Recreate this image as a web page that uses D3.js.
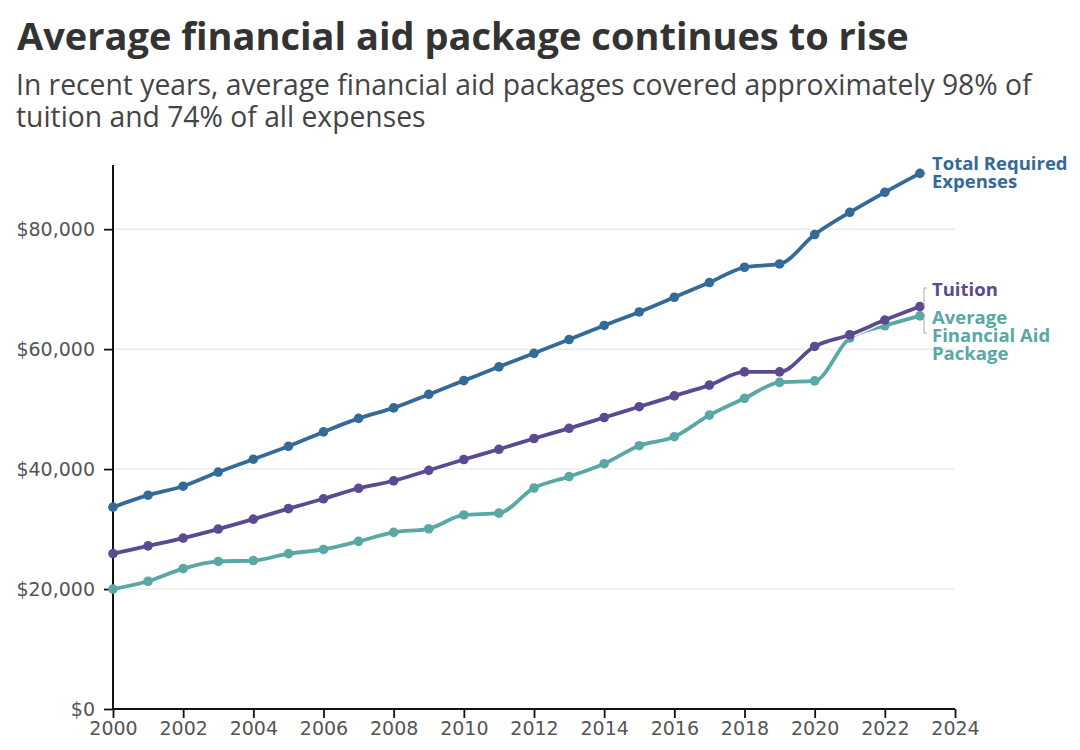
<!DOCTYPE html>
<html>
<head>
<meta charset="utf-8">
<script src="https://cdn.jsdelivr.net/npm/d3@7"></script>
<style>
  html, body { margin: 0; padding: 0; background: #fff; }
  svg { display: block; font-family: "Open Sans", "Noto Sans", sans-serif; }
</style>
</head>
<body>
<svg id="chart" width="1080" height="750"></svg>
<script>
const years = [2000,2001,2002,2003,2004,2005,2006,2007,2008,2009,2010,2011,2012,2013,2014,2015,2016,2017,2018,2019,2020,2021,2022,2023];
const totalExpenses = [33650,35650,37150,39500,41650,43800,46200,48450,50200,52450,54750,57050,59300,61600,63950,66200,68650,71100,73650,74200,79100,82800,86150,89300];
const tuition = [25900,27200,28500,30000,31650,33400,35050,36800,38050,39800,41600,43300,45100,46800,48600,50400,52200,54000,56200,56200,60450,62400,64850,67100];
const aidPackage = [20000,21300,23400,24600,24750,25900,26600,27950,29450,30050,32350,32650,36850,38750,40900,43900,45400,49000,51800,54450,54700,61850,63900,65550];
const yTicks = [0,20000,40000,60000,80000];
const xTicks = [2000,2002,2004,2006,2008,2010,2012,2014,2016,2018,2020,2022,2024];
const seriesColors = ["#346a98","#5b4a91","#5aa8a5"];

const svg = d3.select("#chart");
const margin = {left: 113, right: 125, top: 165, bottom: 41};
const W = 1080, H = 750;

const x = d3.scaleLinear().domain([2000, 2024]).range([margin.left, W - margin.right]);
const y = d3.scaleLinear().domain([0, 90700]).range([H - margin.bottom, margin.top]);

// scale a text's font size so its width matches a target width
function fit(sel, target) {
  const fs = +sel.attr("font-size");
  const w = sel.node().getComputedTextLength();
  sel.attr("font-size", (fs * target / w).toFixed(2));
}

// Title and subtitle
const title = svg.append("text").attr("x", 17).attr("y", 50)
  .attr("font-size", 37).attr("font-weight", 700).attr("fill", "#333")
  .text("Average financial aid package continues to rise");
fit(title, 892);
const sub1 = svg.append("text").attr("x", 16).attr("y", 95).attr("font-size", 25).attr("fill", "#444")
  .text("In recent years, average financial aid packages covered approximately 98% of");
fit(sub1, 1016);
svg.append("text").attr("x", 16).attr("y", 127).attr("font-size", sub1.attr("font-size")).attr("fill", "#444")
  .text("tuition and 74% of all expenses");

// Gridlines
svg.append("g").selectAll("line").data(yTicks.filter(d => d > 0)).join("line")
  .attr("x1", x(2000)).attr("x2", x(2024))
  .attr("y1", d => y(d)).attr("y2", d => y(d))
  .attr("stroke", "#ececec").attr("stroke-width", 1.5);

// Axes
const yAxis = svg.append("g").attr("transform", `translate(${x(2000)},0)`)
  .call(d3.axisLeft(y).tickValues(yTicks).tickSize(9).tickPadding(9)
    .tickFormat(d => "$" + d3.format(",")(d)));
const xAxis = svg.append("g").attr("transform", `translate(0,${y(0)})`)
  .call(d3.axisBottom(x).tickValues(xTicks).tickSize(9).tickPadding(4).tickFormat(d3.format("d")));
[yAxis, xAxis].forEach(a => {
  a.select(".domain").attr("stroke", "#111").attr("stroke-width", 2);
  a.selectAll(".tick line").attr("stroke", "#111").attr("stroke-width", 1.8);
  a.selectAll(".tick text").attr("fill", "#555").attr("font-size", 19)
    .attr("font-family", "'DejaVu Sans', sans-serif");
});
yAxis.select(".domain").attr("d", `M-0,${y(90700)}V${y(0)}`);
xAxis.select(".domain").attr("d", `M${x(2000)},0H${x(2024)}`);

// Lines
const allSeries = [totalExpenses, tuition, aidPackage];
const line = d3.line().x((d, i) => x(years[i])).y(d => y(d)).curve(d3.curveMonotoneX);
[2, 1, 0].forEach(s => {
  const g = svg.append("g");
  g.append("path").datum(allSeries[s]).attr("d", line)
    .attr("fill", "none").attr("stroke", "#fff").attr("stroke-width", 6.5).attr("stroke-linejoin", "round");
  g.append("path").datum(allSeries[s]).attr("d", line)
    .attr("fill", "none").attr("stroke", seriesColors[s]).attr("stroke-width", 3.8).attr("stroke-linejoin", "round");
  g.selectAll("circle").data(allSeries[s]).join("circle")
    .attr("cx", (d, i) => x(years[i])).attr("cy", d => y(d)).attr("r", 4.8)
    .attr("fill", seriesColors[s]);
});

// Labels and connectors
const last = years.length - 1;
const lx = x(2023);
const labelX = 932;
const conn = svg.append("g").attr("fill", "none").attr("stroke", "#aaa").attr("stroke-width", 1);
conn.append("path").attr("d", `M${lx + 5},${y(totalExpenses[last])}H${labelX - 6}`);
conn.append("path").attr("d", `M${lx + 5},${y(tuition[last])}H${924}V${288}H${927}`);
conn.append("path").attr("d", `M${lx + 5},${y(aidPackage[last])}H${924}V${333}H${927}`);

function label(lines, color, y0) {
  lines.forEach((l, i) => svg.append("text").attr("x", labelX).attr("y", y0 + i * 18)
    .attr("font-size", 18.5).attr("font-weight", 700).attr("fill", color).text(l));
}
label(["Total Required", "Expenses"], seriesColors[0], 170);
label(["Tuition"], seriesColors[1], 296);
label(["Average", "Financial Aid", "Package"], seriesColors[2], 324);
</script>
</body>
</html>
